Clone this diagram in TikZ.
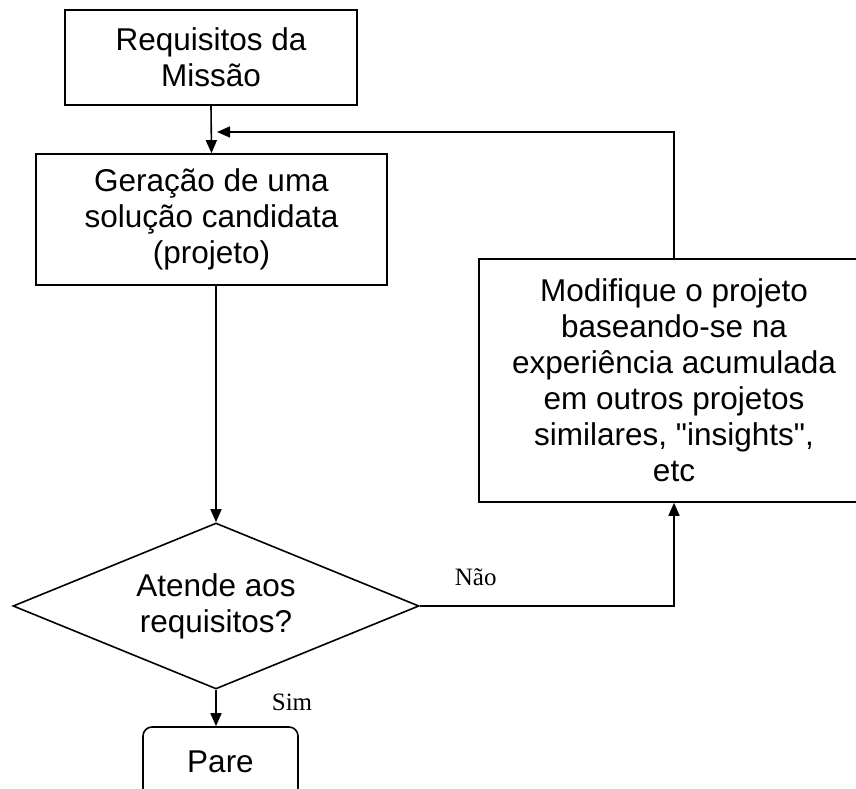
\documentclass[tikz,border=0pt]{standalone}
\usepackage{fontspec}
\setmainfont{Liberation Sans}
\newfontfamily\timesfont{Liberation Serif}
\usetikzlibrary{shapes.geometric}
\usetikzlibrary{arrows.meta}

\begin{document}
\begin{tikzpicture}[x=1pt,y=1pt,
  caixa/.style={draw, line width=1.6pt, align=center, inner sep=0pt, font=\fontsize{31.5}{36}\selectfont},
  decisao/.style={draw, diamond, line width=1.6pt, inner sep=0pt, minimum width=406pt, minimum height=166pt},
  rotulo/.style={font=\timesfont\fontsize{25}{30}\selectfont},
  seta/.style={line width=1.6pt, -{Triangle[length=13pt,width=11pt]}}]
\useasboundingbox (0,0) rectangle (856,789);
\node[caixa, minimum width=292pt, minimum height=95pt] (req) at (211,731.5) {Requisitos da\\Missão};
\node[caixa, minimum width=351pt, minimum height=131pt] (ger) at (211.5,569.5) {Geração de uma\\solução candidata\\(projeto)};
\node[caixa, minimum width=390pt, minimum height=243pt] (mod) at (674,408.5) {Modifique o projeto\\baseando-se na\\experiência acumulada\\em outros projetos\\similares, \textquotedbl insights\textquotedbl,\\etc};
\node[decisao] (dec) at (216,183) {};
\node[align=center, font=\fontsize{31.5}{36}\selectfont] (pergunta) at (dec) {Atende aos\\requisitos?};
\node[caixa, rounded corners=9pt, minimum width=155pt, minimum height=70pt] (pare) at (220.5,27) {Pare};
\coordinate (retorno) at (217,657);
%\draw (req) -- (dec);
\draw[seta] (req.south) -- (ger.north);
\draw[seta] (ger.south -| dec.north) -- (dec.north);
\draw[seta] (dec.south) -- node[rotulo, pos=0.35, xshift=76pt] {Sim} (dec.south |- pare.north);
\draw[seta] (dec.east) -| node[rotulo, pos=0.11, yshift=29pt] {Não} (mod.south);
\draw[seta] (mod.north) |- (retorno);
\end{tikzpicture}
\end{document}
